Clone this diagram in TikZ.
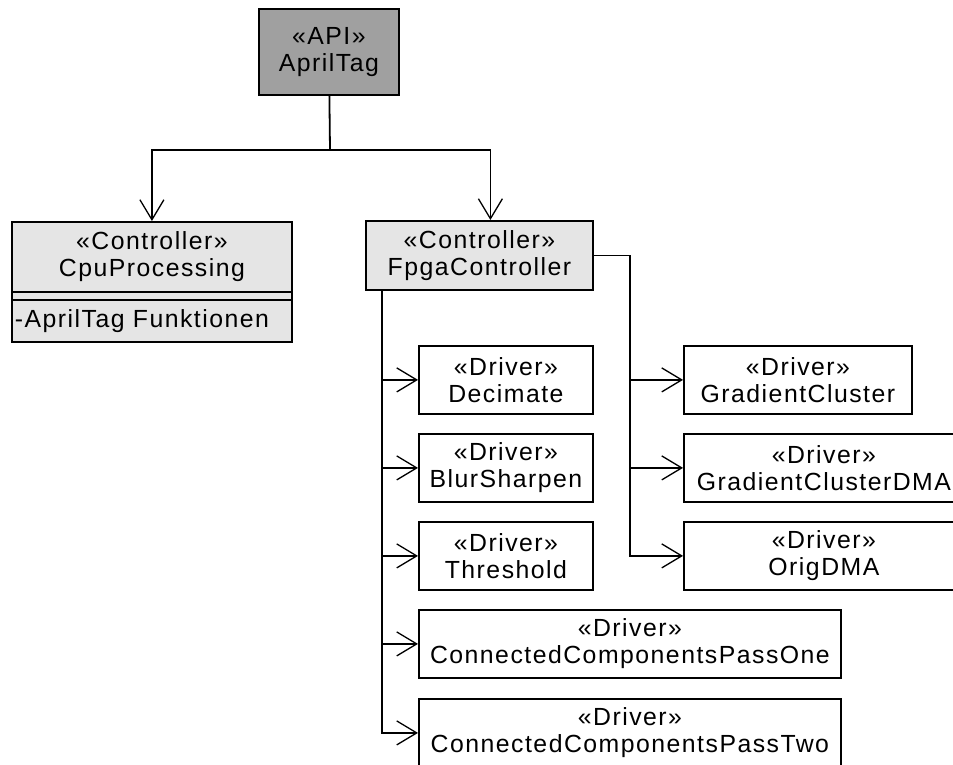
\documentclass[tikz,border=0pt]{standalone}
\usepackage{fontspec}
\setmainfont{Liberation Sans}[LetterSpace=6]
\usetikzlibrary{arrows.meta}
\definecolor{apigray}{RGB}{160,160,160}
\definecolor{ctrlgray}{RGB}{229,229,229}
\tikzset{
  umlbox/.style={draw,line width=1.8pt,anchor=north west,inner sep=0pt,
    align=center,font=\fontsize{24.8}{27}\selectfont},
  inherit/.style={line width=1.8pt,
    -{Straight Barb[length=20pt,width=24pt,line width=1.3pt]}},
}
\newcommand{\driverbox}[4]{%
  \node[umlbox,minimum width=#4,minimum height=68] (#1) at #2 {«Driver»\\#3};
}

\begin{document}
\begin{tikzpicture}[x=1pt,y=-1pt]
  \useasboundingbox (0,0) rectangle (953,765);
  % api and controllers
  \node[umlbox,fill=apigray,minimum width=140,minimum height=86] (api) at (258,8) {«API»\\AprilTag};
  \node[umlbox,fill=ctrlgray,minimum width=280,minimum height=70] (cpu) at (11,221) {«Controller»\\CpuProcessing};
  \node[umlbox,fill=ctrlgray,minimum width=280,minimum height=8] (cpuops) at (11,291) {};
  \node[umlbox,fill=ctrlgray,minimum width=280,minimum height=42,text width=274,align=left] (cpuattr) at (11,299) {-AprilTag Funktionen};
  \node[umlbox,fill=ctrlgray,minimum width=227,minimum height=69] (fpga) at (365,220) {«Controller»\\FpgaController};
  % drivers
  \driverbox{dec}{(418,345)}{Decimate}{174}
  \driverbox{blur}{(418,433)}{BlurSharpen}{174}
  \driverbox{thr}{(418,521)}{Threshold}{174}
  \driverbox{ccone}{(418,609)}{ConnectedComponentsPassOne}{422}
  \driverbox{cctwo}{(418,698)}{ConnectedComponentsPassTwo}{422}
  \driverbox{gc}{(683,345)}{GradientCluster}{228}
  \driverbox{gcdma}{(683,433)}{GradientClusterDMA}{280}
  \driverbox{odma}{(683,521)}{OrigDMA}{280}
  % connectors
  \coordinate (split) at (330,150);
  \coordinate (lx) at (382,0);
  \coordinate (rx) at (630,0);
  \draw[line width=1.8pt] (api) -- (split);
  \draw[inherit] (split) -| (cpu);
  \draw[inherit] (split) -| ([xshift=11pt]fpga.north);
  \foreach \d in {dec,blur,thr,ccone,cctwo}
    \draw[inherit] (fpga.south -| lx) |- (\d);
  \foreach \d in {gc,gcdma,odma}
    \draw[inherit] (fpga.east) -- (fpga.east -| rx) |- (\d);
\end{tikzpicture}
\end{document}
